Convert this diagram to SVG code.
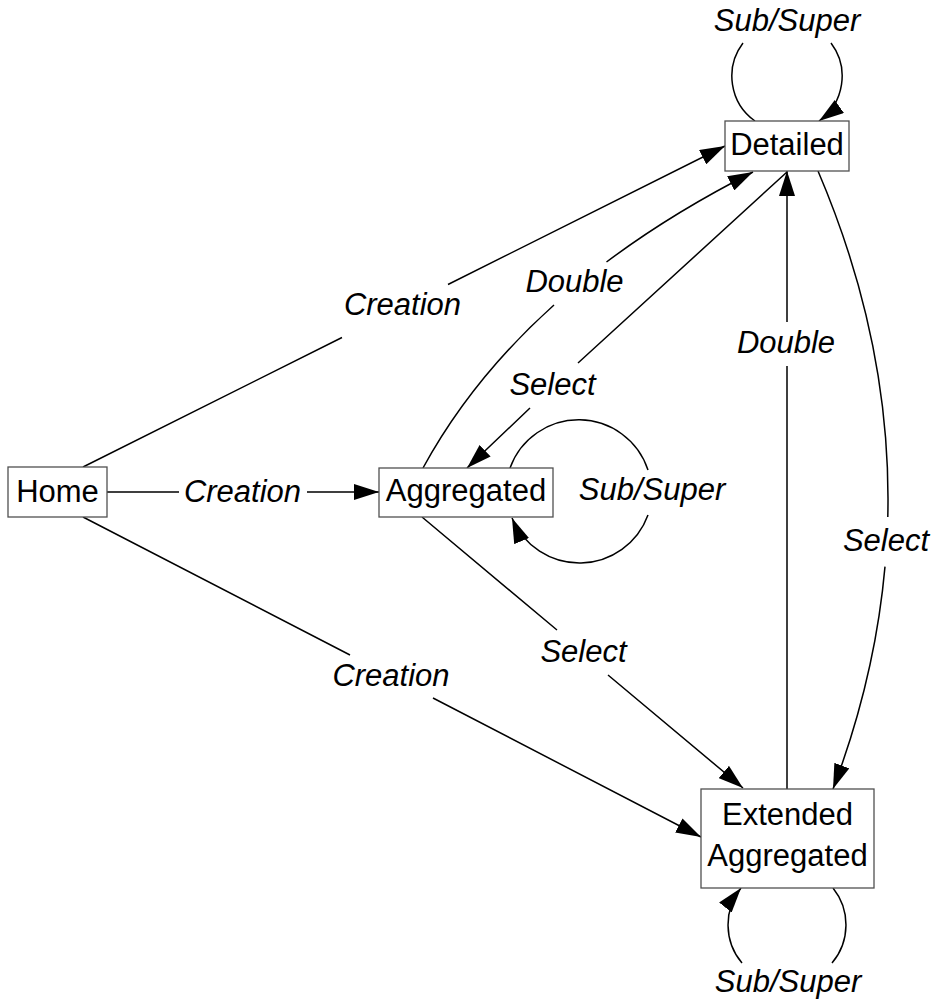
<svg xmlns="http://www.w3.org/2000/svg" width="936" height="1004" viewBox="0 0 936 1004">
<style>
  .box { fill: #ffffff; stroke: #505050; stroke-width: 1.3; }
  .name { font-family: "Liberation Sans", Arial, sans-serif; font-size: 31px; fill: #000; text-anchor: middle; }
  .lbl { font-family: "Liberation Sans", Arial, sans-serif; font-size: 31px; font-style: italic; fill: #000; text-anchor: middle; }
  .edge { fill: none; stroke: #000; stroke-width: 1.5; marker-end: url(#arrow); }
</style>
<defs>
  <marker id="arrow" viewBox="0 0 25 16" refX="25" refY="8" markerWidth="25" markerHeight="16" markerUnits="userSpaceOnUse" orient="auto">
    <path d="M0,0 L25,8 L0,16 z" fill="#000"/>
  </marker>
</defs>
<rect width="936" height="1004" fill="#ffffff"/>

<g id="connectors">
  <!-- Home -> Detailed (Creation) -->
  <path class="edge" d="M83,467 L342,337.5 M448,284.5 L725,146"/>
  <text class="lbl" x="402.5" y="315">Creation</text>
  <!-- Home -> Aggregated (Creation) -->
  <path class="edge" d="M107,492 L179,492 M307,492 L379,492"/>
  <text class="lbl" x="242.5" y="502">Creation</text>
  <!-- Home -> Extended Aggregated (Creation) -->
  <path class="edge" d="M83,517 L350,655 M433,698 L701,837"/>
  <text class="lbl" x="391" y="686">Creation</text>
  <!-- Aggregated -> Detailed (Double) -->
  <path class="edge" d="M423,468 Q471.5,379 554,305 M606.5,262 Q671.5,213.3 753,172"/>
  <text class="lbl" x="574.5" y="292">Double</text>
  <!-- Detailed -> Aggregated (Select) -->
  <path class="edge" d="M787,172 L578,363 M530,408 L467,468"/>
  <text class="lbl" x="552.5" y="395">Select</text>
  <!-- Extended Aggregated -> Detailed (Double) -->
  <path class="edge" d="M787,789 L787,366 M787,322 L787,171"/>
  <text class="lbl" x="786" y="353">Double</text>
  <!-- Detailed -> Extended Aggregated (Select) -->
  <path class="edge" d="M818,171 Q891.9,344 887.8,517 M885,566.6 Q875.1,677.8 833,789"/>
  <text class="lbl" x="886" y="551">Select</text>
  <!-- Aggregated -> Extended Aggregated (Select) -->
  <path class="edge" d="M422,517 L557,630 M608,675 L743,788"/>
  <text class="lbl" x="583.5" y="662">Select</text>
  <!-- Detailed self loop -->
  <path class="edge" d="M755,121 A55,55 0 0 1 743,43 M831,43 A55,55 0 0 1 819,121"/>
  <text class="lbl" x="787" y="31">Sub/Super</text>
  <!-- Aggregated self loop -->
  <path class="edge" d="M510,468 A73,73 0 0 1 648,470 M648,515 A73,73 0 0 1 512,518"/>
  <text class="lbl" x="652" y="500">Sub/Super</text>
  <!-- Extended Aggregated self loop -->
  <path class="edge" d="M833,888 A59,59 0 0 1 832,963 M742,963 A59,59 0 0 1 741,888"/>
  <text class="lbl" x="788" y="992">Sub/Super</text>
</g>

<g id="node-home">
  <rect class="box" x="8" y="467" width="99" height="50"/>
  <text class="name" x="57.5" y="502">Home</text>
</g>
<g id="node-aggregated">
  <rect class="box" x="379" y="468" width="174" height="49"/>
  <text class="name" x="466" y="501">Aggregated</text>
</g>
<g id="node-detailed">
  <rect class="box" x="725" y="121" width="124" height="50"/>
  <text class="name" x="787" y="155">Detailed</text>
</g>
<g id="node-extended">
  <rect class="box" x="701" y="789" width="173" height="99"/>
  <text class="name" x="787.5" y="825">Extended</text>
  <text class="name" x="787.5" y="866">Aggregated</text>
</g>
</svg>
